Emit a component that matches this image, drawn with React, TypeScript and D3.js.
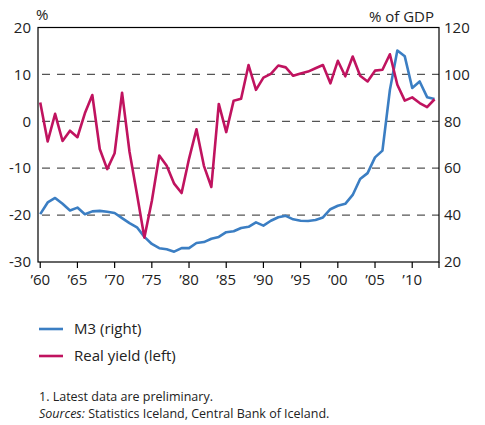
import React, { useEffect, useRef } from "react";
import * as d3 from "d3";

// years 1960-2013
const years: number[] = d3.range(1960, 2014);

// M3, % of GDP (right axis)
const m3: number[] = [
    40.4, 45.4, 47.3, 44.8, 42.0, 43.2, 40.4, 41.6, 41.8, 41.4,
    40.9, 38.7, 36.6, 34.8, 30.7, 27.7, 25.9, 25.4, 24.4, 25.9,
    25.9, 28.1, 28.5, 29.9, 30.7, 32.7, 33.1, 34.5, 35.0, 36.9,
    35.5, 37.6, 39.1, 39.7, 38.2, 37.6, 37.5, 37.9, 39.0, 42.5,
    44.0, 44.8, 48.6, 55.4, 57.9, 64.6, 67.5, 93.4, 110.2, 107.7,
    94.2, 97.0, 90.3, 89.5,
];

// real yield, % (left axis)
const realYield: number[] = [
    4.0, -4.3, 1.6, -4.2, -2.0, -3.4, 1.7, 5.6, -5.9, -10.2,
    -6.8, 6.1, -6.5, -15.5, -24.8, -17.0, -7.3, -9.5, -13.3, -15.3,
    -8.0, -1.7, -9.5, -14.0, 3.7, -2.3, 4.4, 4.8, 12.0, 6.7,
    9.3, 10.1, 11.9, 11.5, 9.7, 10.2, 10.6, 11.3, 12.0, 8.1,
    12.9, 9.6, 13.8, 9.7, 8.5, 10.8, 11.0, 14.3, 7.8, 4.4,
    5.1, 3.9, 3.0, 4.7,
];

const leftTicks = [20, 10, 0, -10, -20, -30];
const rightTicks = [120, 100, 80, 60, 40, 20];
const yearTicks = d3.range(1960, 2011, 5);

const BLUE = "#3b7ec3";
const RED = "#c0135f";
const FONT = "'Open Sans', sans-serif";

const App = () => {
    const ref = useRef<SVGSVGElement>(null);

    useEffect(() => {
        const svg = d3.select(ref.current);
        svg.selectAll("*").remove();

        const width = 485;
        const height = 425;
        const margin = { top: 27.5, left: 38, right: 439, bottom: 262 };

        svg.attr("width", width).attr("height", height).style("font-family", FONT);

        const x = d3.scaleLinear().domain([1959.7, 2013.6]).range([margin.left, margin.right]);
        const yL = d3.scaleLinear().domain([-30, 20]).range([margin.bottom, margin.top]);
        const yR = d3.scaleLinear().domain([20, 120]).range([margin.bottom, margin.top]);

        // dashed grid lines
        svg.append("g")
            .selectAll("line")
            .data([10, 0, -10, -20])
            .join("line")
            .attr("x1", margin.left + 4)
            .attr("x2", margin.right)
            .attr("y1", (d) => yL(d))
            .attr("y2", (d) => yL(d))
            .attr("stroke", "#555")
            .attr("stroke-width", 1.3)
            .attr("stroke-dasharray", "8,7");

        // lines
        const lineM3 = d3.line<number>().x((_, i) => x(years[i])).y((d) => yR(d));
        const lineRY = d3.line<number>().x((_, i) => x(years[i])).y((d) => yL(d));

        svg.append("path")
            .datum(m3)
            .attr("d", lineM3)
            .attr("fill", "none")
            .attr("stroke", BLUE)
            .attr("stroke-width", 2.6)
            .attr("stroke-linejoin", "round");

        svg.append("path")
            .datum(realYield)
            .attr("d", lineRY)
            .attr("fill", "none")
            .attr("stroke", RED)
            .attr("stroke-width", 2.6)
            .attr("stroke-linejoin", "round");

        // frame
        svg.append("rect")
            .attr("x", margin.left)
            .attr("y", margin.top)
            .attr("width", margin.right - margin.left)
            .attr("height", margin.bottom - margin.top)
            .attr("fill", "none")
            .attr("stroke", "#000")
            .attr("stroke-width", 1.2);

        // bottom ticks
        svg.append("g")
            .selectAll("line")
            .data([...yearTicks, 2013.6])
            .join("line")
            .attr("x1", (d) => x(d))
            .attr("x2", (d) => x(d))
            .attr("y1", margin.bottom)
            .attr("y2", margin.bottom + 6)
            .attr("stroke", "#000")
            .attr("stroke-width", 1.2);

        svg.append("g")
            .selectAll("text")
            .data(yearTicks)
            .join("text")
            .attr("x", (d) => x(d))
            .attr("y", 285)
            .attr("text-anchor", "middle")
            .attr("font-size", 15)
            .attr("fill", "#222")
            .text((d) => "\u2019" + String(d).slice(2));

        // left axis labels
        svg.append("g")
            .selectAll("text")
            .data(leftTicks)
            .join("text")
            .attr("x", 31)
            .attr("y", (d) => yL(d))
            .attr("dy", "0.35em")
            .attr("text-anchor", "end")
            .attr("font-size", 15)
            .attr("fill", "#222")
            .text((d) => d);

        // right axis labels
        svg.append("g")
            .selectAll("text")
            .data(rightTicks)
            .join("text")
            .attr("x", 444)
            .attr("y", (d) => yR(d))
            .attr("dy", "0.35em")
            .attr("text-anchor", "start")
            .attr("font-size", 15)
            .attr("fill", "#222")
            .text((d) => d);

        svg.append("text")
            .attr("x", 36)
            .attr("y", 20)
            .attr("font-size", 15)
            .attr("fill", "#222")
            .text("%");

        svg.append("text")
            .attr("x", 434)
            .attr("y", 22)
            .attr("text-anchor", "end")
            .attr("font-size", 15)
            .attr("fill", "#222")
            .text("% of GDP");

        // legend
        const legend = [
            { label: "M3 (right)", color: BLUE, y: 329 },
            { label: "Real yield (left)", color: RED, y: 356 },
        ];
        const lg = svg.append("g").selectAll("g").data(legend).join("g");
        lg.append("line")
            .attr("x1", 39)
            .attr("x2", 63)
            .attr("y1", (d) => d.y)
            .attr("y2", (d) => d.y)
            .attr("stroke", (d) => d.color)
            .attr("stroke-width", 2.6);
        lg.append("text")
            .attr("x", 74)
            .attr("y", (d) => d.y)
            .attr("dy", "0.35em")
            .attr("font-size", 15)
            .attr("fill", "#222")
            .text((d) => d.label);

        // footnotes
        svg.append("text")
            .attr("x", 39)
            .attr("y", 401)
            .attr("font-size", 12.5)
            .attr("fill", "#222")
            .text("1. Latest data are preliminary.");

        const src = svg.append("text")
            .attr("x", 39)
            .attr("y", 418)
            .attr("font-size", 12.5)
            .attr("fill", "#222");
        src.append("tspan").attr("font-style", "italic").text("Sources:");
        src.append("tspan").text(" Statistics Iceland, Central Bank of Iceland.");
    }, []);

    return <svg ref={ref} style={{ position: "absolute", left: 0, top: 0 }}></svg>;
};

export default App;
